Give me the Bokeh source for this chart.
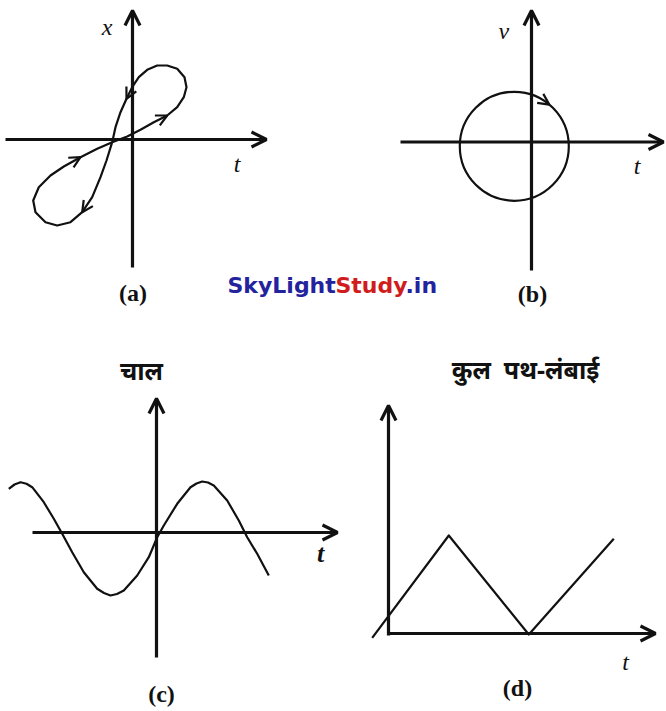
import math

from bokeh.plotting import figure
from bokeh.models import Range1d, Arrow, OpenHead
from bokeh.core.properties import value
from bokeh.embed import file_html
from bokeh.resources import INLINE

# ---------------------------------------------------------------------------
# Data (each panel in its own units, origin where its two axes cross)
# ---------------------------------------------------------------------------

# (a) position x against time t: a figure-eight loop, listed in the order it
# is traversed (crossing -> upper loop -> crossing -> lower loop -> crossing)
a_t = [-2.03, -0.53, 0.80, 2.13, 3.47, 4.47, 5.13, 5.40, 5.20, 4.47, 3.47,
       2.47, 1.47, 0.63, -0.03, -0.60, -1.20, -1.70, -2.03, -2.60, -3.20,
       -4.03, -5.03, -6.20, -7.53, -8.70, -9.70, -9.93, -9.37, -8.20, -6.87,
       -5.20, -3.53, -2.03]
a_x = [-0.27, 0.30, 0.97, 1.73, 2.40, 3.23, 4.23, 5.23, 6.23, 7.07, 7.40,
       7.40, 6.97, 6.23, 5.23, 4.07, 2.73, 1.23, -0.27, -2.10, -3.77,
       -5.77, -7.27, -8.27, -8.60, -8.27, -7.27, -6.10, -4.77, -3.60, -2.70,
       -1.77, -0.93, -0.27]
# segments of the loop that carry a direction chevron (start index)
a_arrow_segments = [3, 14, 21, 30]

# (b) velocity v against time t: a circle
b_center_t = -1.72
b_center_v = -0.43
b_radius = 5.45
b_arrow_angle = 50  # degrees, chevron showing clockwise travel

# (c) speed against time t
c_t = [-14.77, -14.20, -13.60, -13.00, -12.43, -11.27, -10.27, -9.43, -8.43,
       -7.27, -5.93, -5.25, -4.60, -3.95, -3.27, -1.93, -0.77, 0.07, 0.73,
       2.07, 3.40, 4.00, 4.57, 5.15, 5.73, 7.07, 8.23, 9.07, 10.07, 11.23]
c_speed = [4.37, 4.80, 5.03, 4.87, 4.53, 3.03, 1.37, -0.13, -1.97,
           -3.97, -5.63, -6.05, -6.30, -6.15, -5.80, -4.30, -2.47, -0.47, 0.70,
           2.87, 4.53, 4.90, 5.10, 5.00, 4.70, 3.20, 1.20, -0.47, -2.13, -4.30]

# (d) total path length against time t
d_t = [-1.63, 6.03, 14.03, 22.53]
d_len = [-0.43, 9.80, -0.10, 9.47]

# ---------------------------------------------------------------------------
# Layout
# ---------------------------------------------------------------------------
W, H = 666, 711
UNIT = 10.0                     # pixels per panel unit
INK = "#111111"

ORIGINS = {"a": (132, 139), "b": (531, 141.5), "c": (156, 532), "d": (388, 633)}

# axis extents: (t_from, t_to, y_from, y_to)
AXES = {
    "a": (-12.7, 13.4, -12.8, 12.9),
    "b": (-13.1, 13.2, -12.85, 13.15),
    "c": (-12.4, 18.1, -12.5, 13.4),
    "d": (-0.15, 26.7, -0.2, 22.8),
}

SERIF = "Liberation Serif"
DEVA = "Noto Sans"
LABELS = [
    # panel, x, y, text, style, size, font
    ("a", -2.53, 11.23, "x", "italic", "24px", SERIF),
    ("a", 10.47, -2.40, "t", "italic", "24px", SERIF),
    ("a", 0.05, -15.30, "(a)", "bold", "24px", SERIF),
    ("b", -2.77, 11.15, "v", "italic", "24px", SERIF),
    ("b", 10.57, -2.35, "t", "italic", "24px", SERIF),
    ("b", 0.10, -15.20, "(b)", "bold", "24px", SERIF),
    ("c", -1.50, 16.30, "चाल", "bold", "25px", DEVA),
    ("c", 16.40, -2.10, "t", "bold italic", "26px", SERIF),
    ("c", 0.50, -16.10, "(c)", "bold", "24px", SERIF),
    ("d", 13.70, 26.50, "कुल\u00a0\u00a0पथ-लंबाई", "bold", "25px", DEVA),
    ("d", 23.70, -2.80, "t", "italic", "24px", SERIF),
    ("d", 12.90, -5.45, "(d)", "bold", "24px", SERIF),
]

p = figure(width=W, height=H, x_range=Range1d(0, W), y_range=Range1d(H, 0),
           x_axis_location=None, y_axis_location=None, toolbar_location=None,
           output_backend="svg", min_border=0, outline_line_color=None,
           background_fill_color="white", border_fill_color="white")
p.grid.visible = False

for name, (ox, oy) in ORIGINS.items():
    p.extra_x_ranges[name] = Range1d(-ox / UNIT, (W - ox) / UNIT)
    p.extra_y_ranges[name] = Range1d((oy - H) / UNIT, oy / UNIT)


def axis_arrow(name, xs, ys, xe, ye):
    p.add_layout(Arrow(x_start=xs, y_start=ys, x_end=xe, y_end=ye,
                       end=OpenHead(size=15, line_width=3.2, line_color=INK),
                       line_width=3.2, line_color=INK,
                       x_range_name=name, y_range_name=name))


for name, (t0, t1, y0, y1) in AXES.items():
    axis_arrow(name, t0, 0, t1, 0)
    axis_arrow(name, 0, y0, 0, y1)


def chevron(name, xs, ys, xe, ye):
    p.add_layout(Arrow(x_start=xs, y_start=ys, x_end=xe, y_end=ye,
                       end=OpenHead(size=11, line_width=2.2, line_color=INK),
                       line_alpha=0, x_range_name=name, y_range_name=name))


# (a) loop
p.line(a_t, a_x, line_color=INK, line_width=2.2, line_join="round",
       x_range_name="a", y_range_name="a")
for k in a_arrow_segments:
    chevron("a", a_t[k], a_x[k], a_t[k + 1], a_x[k + 1])

# (b) circle
p.circle(x=[b_center_t], y=[b_center_v], radius=b_radius, fill_color=None,
         line_color=INK, line_width=2.2, x_range_name="b", y_range_name="b")
tip = math.radians(b_arrow_angle)
back = math.radians(b_arrow_angle + 12)
chevron("b",
        b_center_t + b_radius * math.cos(back), b_center_v + b_radius * math.sin(back),
        b_center_t + b_radius * math.cos(tip), b_center_v + b_radius * math.sin(tip))

# (c) speed curve
p.line(c_t, c_speed, line_color=INK, line_width=2.2, line_join="round",
       x_range_name="c", y_range_name="c")

# (d) path-length curve
p.line(d_t, d_len, line_color=INK, line_width=2.2, line_join="round",
       x_range_name="d", y_range_name="d")

# axis names and panel captions
for name, x, y, txt, style, size, font in LABELS:
    p.text(x=[x], y=[y], text=[txt], text_font=value(font),
           text_font_style=style, text_font_size=size, text_color=INK,
           text_align="center", text_baseline="middle",
           x_range_name=name, y_range_name=name)

# site name between the upper panels
for x, txt, color in [(227, "SkyLight", "#23239e"), (335, "Study", "#d01c1c"),
                      (405, ".in", "#23239e")]:
    p.text(x=[x], y=[285], text=[txt], text_font=value("DejaVu Sans"),
           text_font_style="bold", text_font_size="22px", text_color=color,
           text_align="left", text_baseline="alphabetic")

open("out.html", "w").write(file_html(p, INLINE))
